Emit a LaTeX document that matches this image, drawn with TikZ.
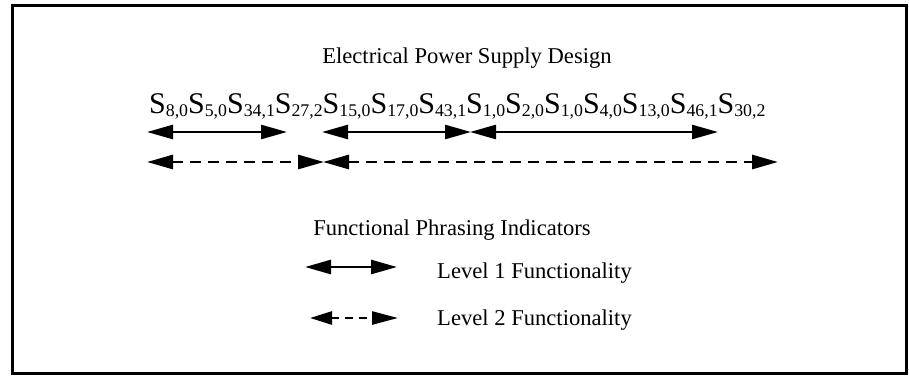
\documentclass[tikz,border=0pt]{standalone}
\usepackage{fontspec}
\setmainfont{Liberation Serif}
\usetikzlibrary{arrows.meta}
\newcommand\Sx[1]{S\raisebox{-3.5pt}{\fontsize{17.8}{18}\selectfont #1}}
\begin{document}
\begin{tikzpicture}[x=1pt,y=-1pt,
  lbl/.style={font=\fontsize{22.6}{24}\selectfont, inner sep=0pt},
  lvlone/.style={line width=2.6pt, {Triangle[length=26pt,width=14pt]}-{Triangle[length=26pt,width=14pt]}},
  lvltwo/.style={line width=2.8pt, dash pattern=on 11pt off 7pt, {Triangle[length=26pt,width=14pt]}-{Triangle[length=26pt,width=14pt]}},
  lvltwoleg/.style={line width=2.6pt, dash pattern=on 8pt off 6pt, {Triangle[length=22pt,width=13pt]}-{Triangle[length=26pt,width=13pt]}}]
\useasboundingbox (0,0) rectangle (909,375);
\draw[line width=2.2pt] (12.5,5.5) rectangle (906.5,373.5);
\node[lbl, anchor=base] (title) at (467,63) {Electrical Power Supply Design};
\node[inner sep=0pt, anchor=base west, font=\fontsize{30}{32}\selectfont] (seq) at (149,113)
  {\Sx{8,0}\Sx{5,0}\Sx{34,1}\Sx{27,2}\Sx{15,0}\Sx{17,0}\Sx{43,1}\Sx{1,0}\Sx{2,0}\Sx{1,0}\Sx{4,0}\Sx{13,0}\Sx{46,1}\Sx{30,2}};
% level 1 arrows
\coordinate (a1) at (147,132); \coordinate (a2) at (287,132);
\coordinate (b1) at (322,132); \coordinate (b2) at (471,132);
\coordinate (c1) at (470,132); \coordinate (c2) at (718,132);
\draw[lvlone] (a1) -- (a2);
\draw[lvlone] (b1) -- (b2);
\draw[lvlone] (c1) -- (c2);
% level 2 arrows
\coordinate (d1) at (147,162); \coordinate (d2) at (324,162);
\coordinate (e1) at (323,162); \coordinate (e2) at (778,162);
\draw[lvltwo] (d1) -- (d2);
\draw[lvltwo] (e1) -- (e2);
% legend
\node[lbl, anchor=base] (legtitle) at (452,235) {Functional Phrasing Indicators};
\coordinate (l1a) at (305,267); \coordinate (l1b) at (397,267);
\draw[lvlone] (l1a) -- (l1b);
\node[lbl, anchor=base west] (l1t) at (437,278) {Level 1 Functionality};
\coordinate (l2a) at (310,318); \coordinate (l2b) at (398,318);
\draw[lvltwoleg] (l2a) -- (l2b);
\node[lbl, anchor=base west] (l2t) at (437,325) {Level 2 Functionality};
\end{tikzpicture}
\end{document}
